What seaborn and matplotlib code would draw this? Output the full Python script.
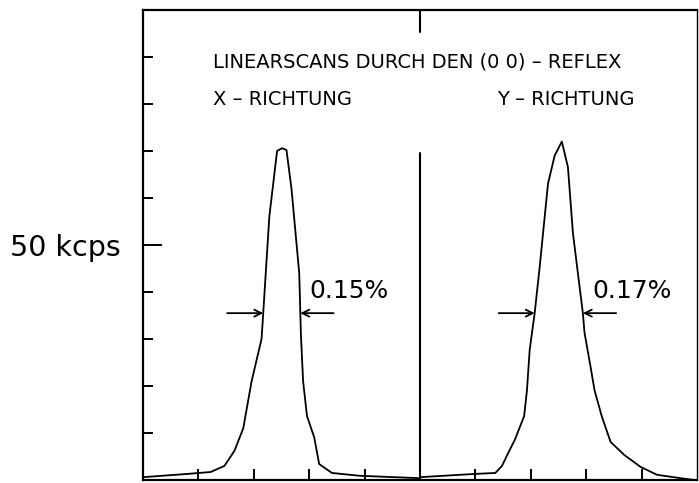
import matplotlib
matplotlib.use("Agg")
import matplotlib.pyplot as plt
import seaborn as sns
import pandas as pd

# ---- data ----
x_scan_pos = [0.0, 0.81, 1.22, 1.47, 1.65, 1.81, 1.96, 2.14, 2.17, 2.28, 2.42, 2.51,
              2.59, 2.68, 2.75, 2.82, 2.84, 2.85, 2.89, 2.96, 3.09, 3.18, 3.41, 3.91, 4.97]
x_scan_int = [0.6, 1.3, 1.7, 3.0, 6.2, 11.0, 21.0, 30.0, 35.5, 56.0, 70.0, 70.6,
              70.2, 62.0, 53.0, 44.0, 35.5, 31.0, 21.0, 13.6, 9.1, 3.4, 1.5, 0.9, 0.4]
y_scan_pos = [5.0, 6.0, 6.36, 6.48, 6.59, 6.71, 6.88, 6.93, 6.98, 7.07, 7.16, 7.31, 7.43,
              7.56, 7.67, 7.76, 7.85, 7.94, 7.97, 8.08, 8.15, 8.28, 8.44, 8.69, 8.98,
              9.28, 9.82, 9.95]
y_scan_int = [0.6, 1.3, 1.5, 3.0, 5.7, 8.5, 13.6, 19.0, 27.7, 35.5, 45.3, 63.0, 69.0,
              72.0, 66.6, 52.6, 44.0, 35.5, 31.3, 24.0, 19.1, 13.6, 8.1, 5.3, 2.8,
              1.1, 0.2, 0.0]
y_ticks_minor = [10, 20, 30, 40, 60, 70, 80, 90]
y_tick_major = 50
y_tick_label = "50 kcps"
x_ticks = [1, 2, 3, 4, 6, 7, 8, 9]
title = "LINEARSCANS DURCH DEN (0 0) – REFLEX"
panel_labels = ["X – RICHTUNG", "Y – RICHTUNG"]
fwhm_labels = ["0.15%", "0.17%"]
fwhm_left = [2.17, 7.07]
fwhm_right = [2.84, 7.94]
fwhm_level = 35.5

df = pd.concat([
    pd.DataFrame({"pos": x_scan_pos, "int": x_scan_int, "scan": "X"}),
    pd.DataFrame({"pos": y_scan_pos, "int": y_scan_int, "scan": "Y"}),
])

sns.set_style("white")
plt.rcParams["font.family"] = ["DejaVu Sans"]
plt.rcParams["text.color"] = "black"

fig = plt.figure(figsize=(6.99, 4.83), dpi=100)
ax = fig.add_axes([143 / 699, 3 / 483, 554 / 699, 470 / 483])

sns.lineplot(data=df, x="pos", y="int", units="scan", estimator=None,
             color="black", lw=1.3, sort=False, ax=ax, legend=False)

ax.set_xlim(0, 10)
ax.set_ylim(0, 100)
for s in ax.spines.values():
    s.set_linewidth(1.6)
    s.set_color("black")
ax.spines["right"].set_linewidth(1.0)

# divider between scans
ax.plot([5, 5], [0, 69.5], color="black", lw=1.5)
# top tick at divider
ax.plot([5, 5], [100, 95.3], color="black", lw=1.5)

ax.set_xticks(x_ticks)
ax.set_xticklabels([])
ax.tick_params(axis="x", direction="in", length=8, width=1.4, color="black", bottom=True)
ax.set_yticks(y_ticks_minor + [y_tick_major])
ax.set_yticklabels([""] * len(y_ticks_minor) + [y_tick_label], fontsize=20.5)
ax.tick_params(axis="y", direction="in", length=7, width=1.4, color="black",
               labelcolor="black", left=True)
ax.yaxis.get_major_ticks()[-1].tick1line.set_markersize(14)
for lbl in ax.get_yticklabels():
    lbl.set_x(-0.232)
    lbl.set_ha("left")
ax.set_xlabel("")
ax.set_ylabel("")

ax.text(1.26, 89.0, title, fontsize=14, ha="left", va="center", color="black")
ax.text(1.26, 80.9, panel_labels[0], fontsize=14, ha="left", va="center", color="black")
ax.text(6.39, 80.9, panel_labels[1], fontsize=14, ha="left", va="center", color="black")

label_x = [3.0, 8.12]
for i in range(2):
    ax.annotate("", xy=(fwhm_left[i], fwhm_level), xytext=(fwhm_left[i] - 0.65, fwhm_level),
                arrowprops=dict(arrowstyle="->,head_length=0.5,head_width=0.25", color="black", lw=1.3,
                                shrinkA=0, shrinkB=0))
    ax.annotate("", xy=(fwhm_right[i], fwhm_level), xytext=(fwhm_right[i] + 0.6, fwhm_level),
                arrowprops=dict(arrowstyle="->,head_length=0.5,head_width=0.25", color="black", lw=1.3,
                                shrinkA=0, shrinkB=0))
    ax.text(label_x[i], 40.2, fwhm_labels[i], fontsize=18, ha="left", va="center", color="black")

fig.savefig("out.png", dpi=100)
